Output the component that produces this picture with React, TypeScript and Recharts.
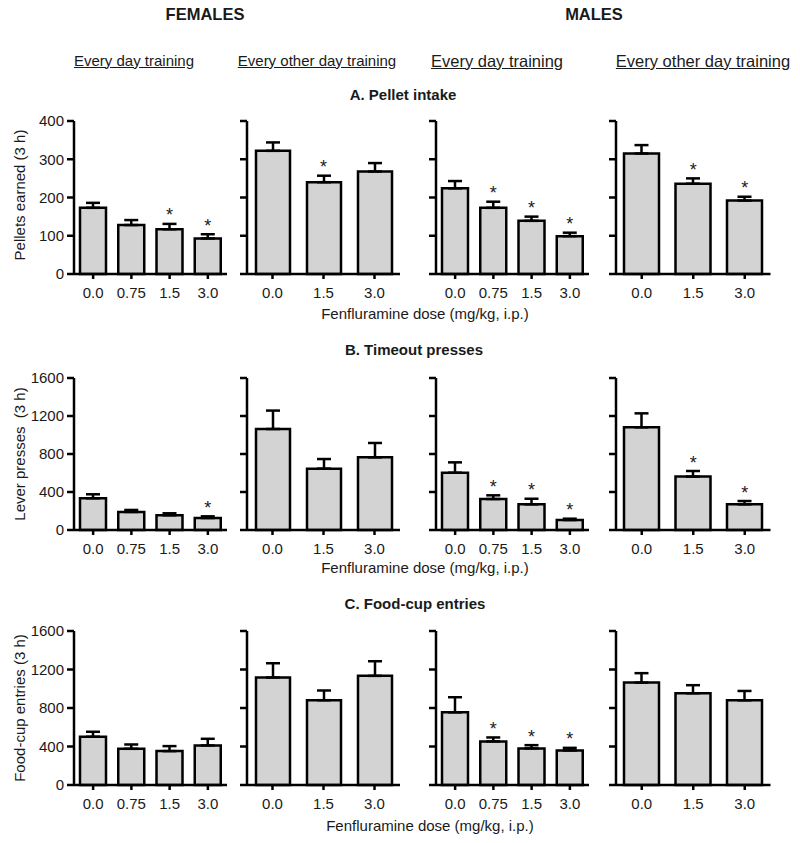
import React from 'react';
import { ComposedChart, Bar, ErrorBar, Scatter, XAxis, YAxis } from 'recharts';

const dosesDaily = ['0.0', '0.75', '1.5', '3.0'];
const dosesAlt = ['0.0', '1.5', '3.0'];

const ticksPellets = [0, 100, 200, 300, 400];
const ticksPresses = [0, 400, 800, 1200, 1600];

// A. Pellet intake
const pelletFemDaily = [173, 128, 117, 93];
const pelletFemDailySem = [13, 13, 14, 11];
const pelletFemDailySig = [0, 0, 1, 1];
const pelletFemAlt = [322, 240, 268];
const pelletFemAltSem = [22, 17, 22];
const pelletFemAltSig = [0, 1, 0];
const pelletMaleDaily = [224, 173, 139, 99];
const pelletMaleDailySem = [19, 16, 11, 9];
const pelletMaleDailySig = [0, 1, 1, 1];
const pelletMaleAlt = [315, 236, 192];
const pelletMaleAltSem = [22, 14, 10];
const pelletMaleAltSig = [0, 1, 1];

// B. Timeout presses
const timeoutFemDaily = [334, 190, 155, 126];
const timeoutFemDailySem = [42, 21, 21, 18];
const timeoutFemDailySig = [0, 0, 0, 1];
const timeoutFemAlt = [1063, 646, 765];
const timeoutFemAltSem = [194, 101, 151];
const timeoutFemAltSig = [0, 0, 0];
const timeoutMaleDaily = [603, 326, 270, 105];
const timeoutMaleDailySem = [109, 39, 59, 14];
const timeoutMaleDailySig = [0, 1, 1, 1];
const timeoutMaleAlt = [1081, 562, 270];
const timeoutMaleAltSem = [147, 59, 35];
const timeoutMaleAltSig = [0, 1, 1];

// C. Food-cup entries
const cupFemDaily = [501, 376, 352, 411];
const cupFemDailySem = [52, 45, 52, 69];
const cupFemDailySig = [0, 0, 0, 0];
const cupFemAlt = [1117, 881, 1134];
const cupFemAltSem = [148, 101, 152];
const cupFemAltSig = [0, 0, 0];
const cupMaleDaily = [755, 453, 380, 359];
const cupMaleDailySem = [157, 41, 34, 27];
const cupMaleDailySig = [0, 1, 1, 1];
const cupMaleAlt = [1064, 953, 880];
const cupMaleAltSem = [98, 84, 97];
const cupMaleAltSig = [0, 0, 0];

const FONT = '"Liberation Sans", Arial, sans-serif';
const INK = '#1a1a1a';

const build = (doses: string[], mean: number[], sem: number[], sig: number[]) =>
  doses.map((d, i) => ({
    dose: d,
    mean: mean[i],
    err: [0, sem[i]],
    star: sig[i] ? mean[i] + sem[i] : null,
  }));

// significance asterisk sits just above the error cap
const Star = (props: any) => {
  const { cx, cy, payload } = props;
  if (!payload || payload.star == null) return <g />;
  return (
    <text x={cx} y={cy - 2.5} textAnchor="middle" fontSize={18} fill={INK} fontFamily={FONT}>
      *
    </text>
  );
};

const X_TICK = 5;
const X_GAP = 8;
const Y_TICK = 7;
const Y_GAP = 3;

// tick mark + label drawn together so the marks always show
const XTick = (props: any) => {
  const { x, y, payload } = props;
  const y0 = y - X_GAP - X_TICK;
  return (
    <g>
      <line x1={x} x2={x} y1={y0} y2={y0 + X_TICK} stroke="#000" strokeWidth={2.5} />
      <text x={x} y={y} dy="0.71em" textAnchor="middle" fontSize={15} fill={INK} fontFamily={FONT}>
        {payload.value}
      </text>
    </g>
  );
};

const makeYTick = (labels: boolean) => (props: any) => {
  const { x, y, payload } = props;
  const x0 = x + Y_GAP + Y_TICK;
  return (
    <g>
      <line x1={x0 - Y_TICK} x2={x0} y1={y} y2={y} stroke="#000" strokeWidth={2.5} />
      {labels && (
        <text x={x} y={y} dy="0.355em" textAnchor="end" fontSize={15} fill={INK} fontFamily={FONT}>
          {payload.value}
        </text>
      )}
    </g>
  );
};
const YTickLabeled = makeYTick(true);
const YTickBare = makeYTick(false);

const Y_W = 45;
const M_TOP = 10;
const M_RIGHT = 5;
const X_H = 30;

interface PanelProps {
  data: any[];
  x: number;
  y: number;
  w: number;
  h: number;
  barSize: number;
  ticks: number[];
  labels: boolean;
}

const Panel = ({ data, x, y, w, h, barSize, ticks, labels }: PanelProps) => (
  <div style={{ position: 'absolute', left: x - Y_W, top: y - M_TOP }}>
    <ComposedChart
      width={w + Y_W + M_RIGHT}
      height={h + M_TOP + X_H}
      data={data}
      margin={{ top: M_TOP, right: M_RIGHT, left: 0, bottom: 0 }}
    >
      <XAxis
        dataKey="dose"
        height={X_H}
        stroke="#000"
        axisLine={{ stroke: '#000', strokeWidth: 2.5 }}
        tickLine={false}
        tickSize={X_TICK}
        tickMargin={X_GAP}
        tick={XTick}
        interval={0}
      />
      <YAxis
        width={Y_W}
        domain={[0, ticks[ticks.length - 1]]}
        ticks={ticks}
        stroke="#000"
        axisLine={{ stroke: '#000', strokeWidth: 2.5 }}
        tickLine={false}
        tickSize={Y_TICK}
        tickMargin={Y_GAP}
        tick={labels ? YTickLabeled : YTickBare}
        interval={0}
      />
      <Bar
        dataKey="mean"
        fill="#d3d3d3"
        stroke="#000"
        strokeWidth={2.5}
        barSize={barSize}
        isAnimationActive={false}
      >
        <ErrorBar dataKey="err" width={7} stroke="#000" strokeWidth={2.5} direction="y" />
      </Bar>
      <Scatter dataKey="star" shape={Star} isAnimationActive={false} />
    </ComposedChart>
  </div>
);

const cols = [
  { x: 74, w: 153, bar: 26 },
  { x: 247, w: 153, bar: 34 },
  { x: 436, w: 153, bar: 26 },
  { x: 616, w: 154.5, bar: 35 },
];
const rowsGeo = [
  { y: 121, h: 153, ticks: ticksPellets },
  { y: 378, h: 152, ticks: ticksPresses },
  { y: 631, h: 154, ticks: ticksPresses },
];

const grid = [
  [
    build(dosesDaily, pelletFemDaily, pelletFemDailySem, pelletFemDailySig),
    build(dosesAlt, pelletFemAlt, pelletFemAltSem, pelletFemAltSig),
    build(dosesDaily, pelletMaleDaily, pelletMaleDailySem, pelletMaleDailySig),
    build(dosesAlt, pelletMaleAlt, pelletMaleAltSem, pelletMaleAltSig),
  ],
  [
    build(dosesDaily, timeoutFemDaily, timeoutFemDailySem, timeoutFemDailySig),
    build(dosesAlt, timeoutFemAlt, timeoutFemAltSem, timeoutFemAltSig),
    build(dosesDaily, timeoutMaleDaily, timeoutMaleDailySem, timeoutMaleDailySig),
    build(dosesAlt, timeoutMaleAlt, timeoutMaleAltSem, timeoutMaleAltSig),
  ],
  [
    build(dosesDaily, cupFemDaily, cupFemDailySem, cupFemDailySig),
    build(dosesAlt, cupFemAlt, cupFemAltSem, cupFemAltSig),
    build(dosesDaily, cupMaleDaily, cupMaleDailySem, cupMaleDailySig),
    build(dosesAlt, cupMaleAlt, cupMaleAltSem, cupMaleAltSig),
  ],
];

const Txt = ({ cx, cy, size, bold, underline, children }: any) => (
  <div
    style={{
      position: 'absolute',
      left: cx - 200,
      top: cy - size / 2,
      width: 400,
      textAlign: 'center',
      fontSize: size,
      lineHeight: 1,
      fontWeight: bold ? 'bold' : 'normal',
      textDecoration: underline ? 'underline' : 'none',
      color: INK,
      whiteSpace: 'nowrap',
    }}
  >
    {children}
  </div>
);

const YTitle = ({ cy, children }: any) => (
  <div
    style={{
      position: 'absolute',
      left: 20 - 110,
      top: cy - 10,
      width: 220,
      height: 20,
      lineHeight: '20px',
      textAlign: 'center',
      fontSize: 15,
      color: INK,
      transform: 'rotate(-90deg)',
      whiteSpace: 'pre',
    }}
  >
    {children}
  </div>
);

const sectionTitles = ['A. Pellet intake', 'B. Timeout presses', 'C. Food-cup entries'];
const yTitles = ['Pellets earned (3 h)', 'Lever presses  (3 h)', 'Food-cup entries (3 h)'];
const xTitle = 'Fenfluramine dose (mg/kg, i.p.)';

export default function App() {
  return (
    <div
      style={{
        position: 'absolute',
        left: 0,
        top: 0,
        width: 800,
        height: 843,
        background: '#fff',
        fontFamily: FONT,
        overflow: 'hidden',
      }}
    >
      <Txt cx={205} cy={14} size={16.5} bold>FEMALES</Txt>
      <Txt cx={594} cy={14} size={16.5} bold>MALES</Txt>
      <Txt cx={134} cy={60} size={15} underline>Every day training</Txt>
      <Txt cx={317} cy={60} size={15} underline>Every other day training</Txt>
      <Txt cx={497} cy={61} size={16.5} underline>Every day training</Txt>
      <Txt cx={703} cy={61} size={16.5} underline>Every other day training</Txt>

      <Txt cx={403} cy={94} size={15} bold>{sectionTitles[0]}</Txt>
      <Txt cx={414} cy={349} size={15} bold>{sectionTitles[1]}</Txt>
      <Txt cx={415} cy={603} size={15} bold>{sectionTitles[2]}</Txt>

      <Txt cx={425} cy={313} size={15}>{xTitle}</Txt>
      <Txt cx={425} cy={567} size={15}>{xTitle}</Txt>
      <Txt cx={430} cy={825} size={15}>{xTitle}</Txt>

      <YTitle cy={195}>{yTitles[0]}</YTitle>
      <YTitle cy={454}>{yTitles[1]}</YTitle>
      <YTitle cy={708}>{yTitles[2]}</YTitle>

      {rowsGeo.map((r, ri) =>
        cols.map((c, ci) => (
          <Panel
            key={`${ri}-${ci}`}
            data={grid[ri][ci]}
            x={c.x}
            y={r.y}
            w={c.w}
            h={r.h}
            barSize={c.bar}
            ticks={r.ticks}
            labels={ci === 0}
          />
        ))
      )}
    </div>
  );
}
